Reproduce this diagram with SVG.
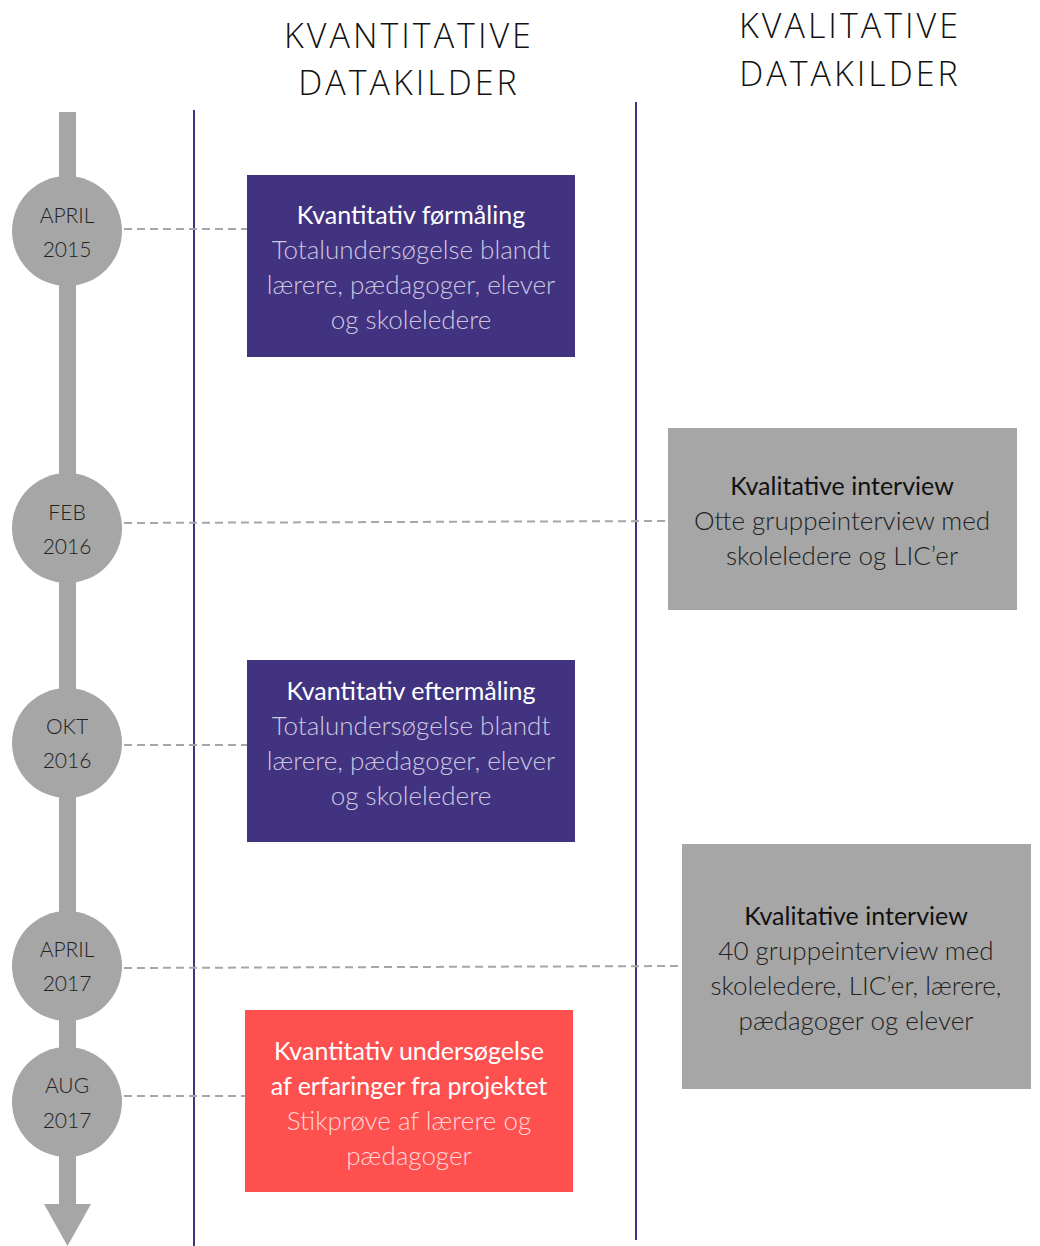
<svg xmlns="http://www.w3.org/2000/svg" width="1040" height="1246" viewBox="0 0 1040 1246">
<style>
.hdr{font-family:"Open Sans","Liberation Sans",sans-serif;font-weight:300;font-size:34px;fill:#111;text-anchor:middle;letter-spacing:3px}
.date{font-family:"Lato","Open Sans",sans-serif;font-weight:300;font-size:21px;fill:#222;text-anchor:middle}
.t{font-family:"Lato","Open Sans",sans-serif;font-weight:400;font-size:25px;text-anchor:middle}
.b{font-family:"Lato","Open Sans",sans-serif;font-weight:300;font-size:26px;text-anchor:middle}
.dash{stroke:#A6A6A6;stroke-width:2;stroke-dasharray:8 5;fill:none}
.vl{stroke:#41337F;stroke-width:2}
.circ{fill:#A6A6A6}
</style>
<rect width="1040" height="1246" fill="#fff"/>
<g id="headers">
<text class="hdr" x="409" y="48">KVANTITATIVE</text>
<text class="hdr" x="409" y="95">DATAKILDER</text>
<text class="hdr" x="850" y="38">KVALITATIVE</text>
<text class="hdr" x="850" y="86">DATAKILDER</text>
</g>
<g id="columns">
<line class="vl" x1="194" y1="110" x2="194" y2="1246"/>
<line class="vl" x1="636" y1="102" x2="636" y2="1240"/>
</g>
<g id="timeline">
<rect x="59" y="112" width="17" height="1096" fill="#A6A6A6"/>
<polygon points="44,1204 91,1204 67.5,1246" fill="#A6A6A6"/>
</g>
<g id="connectors">
<line class="dash" x1="124" y1="229" x2="247" y2="229"/>
<line class="dash" x1="124" y1="523" x2="668" y2="521"/>
<line class="dash" x1="124" y1="745" x2="247" y2="745"/>
<line class="dash" x1="124" y1="968" x2="682" y2="966"/>
<line class="dash" x1="124" y1="1096" x2="245" y2="1096"/>
</g>
<g id="d1"><circle class="circ" cx="67" cy="231" r="55"/><text class="date" x="67" y="223">APRIL</text><text class="date" x="67" y="257">2015</text></g>
<g id="d2"><circle class="circ" cx="67" cy="528" r="55"/><text class="date" x="67" y="520">FEB</text><text class="date" x="67" y="554">2016</text></g>
<g id="d3"><circle class="circ" cx="67" cy="743" r="55"/><text class="date" x="67" y="734">OKT</text><text class="date" x="67" y="768">2016</text></g>
<g id="d4"><circle class="circ" cx="67" cy="966" r="55"/><text class="date" x="67" y="957">APRIL</text><text class="date" x="67" y="991">2017</text></g>
<g id="d5"><circle class="circ" cx="67" cy="1102" r="55"/><text class="date" x="67" y="1093">AUG</text><text class="date" x="67" y="1128">2017</text></g>
<g id="box1">
<rect x="247" y="175" width="328" height="182" fill="#41337F"/>
<text class="t" x="411" y="224" fill="#fff">Kvantitativ førmåling</text>
<text class="b" x="411" y="259" fill="#CDC8E2">Totalundersøgelse blandt</text>
<text class="b" x="411" y="294" fill="#CDC8E2">lærere, pædagoger, elever</text>
<text class="b" x="411" y="329" fill="#CDC8E2">og skoleledere</text>
</g>
<g id="box2">
<rect x="668" y="428" width="349" height="182" fill="#A6A6A6"/>
<text class="t" x="842" y="495" fill="#111">Kvalitative interview</text>
<text class="b" x="842" y="530" fill="#222">Otte gruppeinterview med</text>
<text class="b" x="842" y="565" fill="#222">skoleledere og LIC’er</text>
</g>
<g id="box3">
<rect x="247" y="660" width="328" height="182" fill="#41337F"/>
<text class="t" x="411" y="700" fill="#fff">Kvantitativ eftermåling</text>
<text class="b" x="411" y="735" fill="#CDC8E2">Totalundersøgelse blandt</text>
<text class="b" x="411" y="770" fill="#CDC8E2">lærere, pædagoger, elever</text>
<text class="b" x="411" y="805" fill="#CDC8E2">og skoleledere</text>
</g>
<g id="box4">
<rect x="682" y="844" width="349" height="245" fill="#A6A6A6"/>
<text class="t" x="856" y="925" fill="#111">Kvalitative interview</text>
<text class="b" x="856" y="960" fill="#222">40 gruppeinterview med</text>
<text class="b" x="856" y="995" fill="#222">skoleledere, LIC’er, lærere,</text>
<text class="b" x="856" y="1030" fill="#222">pædagoger og elever</text>
</g>
<g id="box5">
<rect x="245" y="1010" width="328" height="182" fill="#FF5050"/>
<text class="t" x="409" y="1060" fill="#fff">Kvantitativ undersøgelse</text>
<text class="t" x="409" y="1095" fill="#fff">af erfaringer fra projektet</text>
<text class="b" x="409" y="1130" fill="#FFD6D6">Stikprøve af lærere og</text>
<text class="b" x="409" y="1165" fill="#FFD6D6">pædagoger</text>
</g>
</svg>
